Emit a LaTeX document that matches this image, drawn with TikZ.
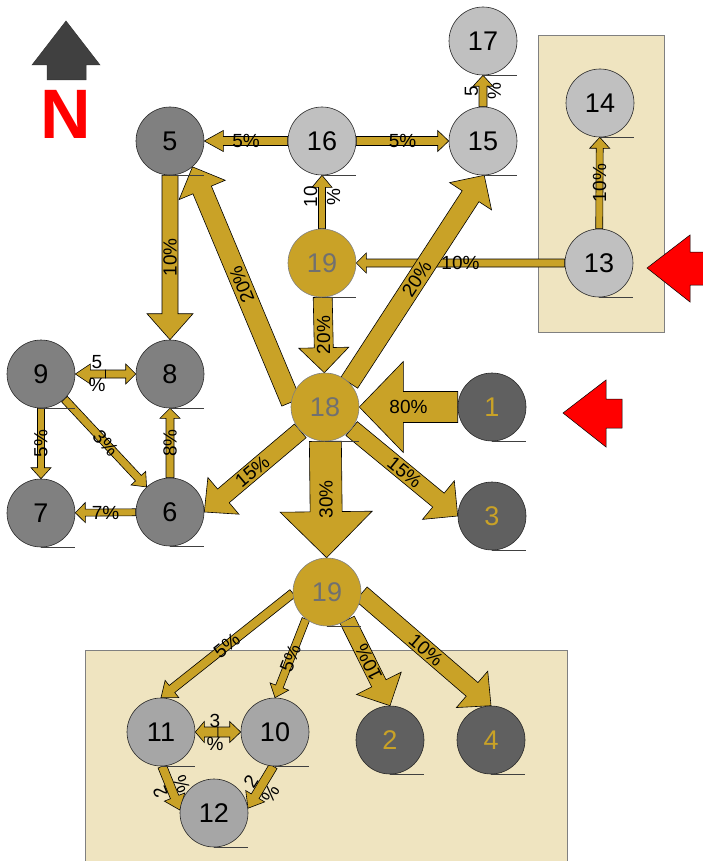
\documentclass[tikz,border=0pt]{standalone}
\usepackage{fontspec}
\setmainfont{Liberation Sans}
\usetikzlibrary{calc}

\definecolor{flowgold}{RGB}{201,162,39}
\definecolor{zonebeige}{RGB}{239,228,192}
\definecolor{greylight}{RGB}{192,192,192}
\definecolor{greypale}{RGB}{166,166,166}
\definecolor{greymid}{RGB}{128,128,128}
\definecolor{greydark}{RGB}{96,96,96}
\definecolor{goldtext}{RGB}{112,112,112}

\pgfdeclarelayer{zones}
\pgfdeclarelayer{flows}
\pgfsetlayers{zones,flows,main}

\tikzset{
  site/.style={circle,draw=black!85,line width=0.6pt,minimum size=68pt,inner sep=0pt,font=\fontsize{27}{27}\selectfont},
  sitelight/.style={site,fill=greylight},
  sitepale/.style={site,fill=greypale},
  sitemid/.style={site,fill=greymid},
  sitedark/.style={site,fill=greydark,text=flowgold},
  sitegold/.style={site,fill=flowgold,draw=greymid,text=goldtext},
  flowarrow/.style={fill=flowgold,draw=black,line width=0.6pt,line join=miter},
  flowlabel/.style={inner sep=0pt,align=center,font=\fontsize{19}{23}\selectfont},
  zonebox/.style={fill=zonebeige,draw=black!50,line width=0.6pt},
  windarrow/.style={fill=red,draw=black,line width=0.5pt},
  underline/.style={draw=black!75,line width=0.6pt}
}

% #1 tail, #2 tip, #3 half shaft, #4 half head, #5 head length, #6 label options, #7 label
\newcommand{\flow}[7]{%
  \path (#1) -- (#2) coordinate[pos=0] (ft) coordinate[pos=1] (fh);
  \coordinate (fb) at ($(fh)!#5pt!(ft)$);
  \filldraw[flowarrow] ($(ft)!#3pt!90:(fh)$) -- ($(fb)!#3pt!90:(fh)$) -- ($(fb)!#4pt!90:(fh)$) -- (fh)
    -- ($(fb)!#4pt!-90:(fh)$) -- ($(fb)!#3pt!-90:(fh)$) -- ($(ft)!#3pt!-90:(fh)$) -- cycle;
  \path (ft) -- (fh) node[flowlabel,midway,#6] {#7};
}

\begin{document}
\begin{tikzpicture}[x=1pt,y=-1pt]
\useasboundingbox (0,0) rectangle (702,861);

% compass and wind
\filldraw[fill=black!75,draw=black!80,line width=0.5pt] (66,21) -- (100,65) -- (86,65) -- (86,80) -- (47,80) -- (47,65) -- (32,65) -- cycle;
\node[text=red,font=\fontsize{70}{70}\selectfont\bfseries] (north) at (66,114) {N};
\filldraw[windarrow] (647,268) -- (690,235) -- (690,252) -- (706,252) -- (706,285) -- (690,285) -- (690,302) -- cycle;
\filldraw[windarrow] (563,413) -- (606,380) -- (606,399) -- (622,399) -- (622,428) -- (606,428) -- (606,447) -- cycle;

\begin{pgfonlayer}{zones}
\filldraw[zonebox] (538,35) rectangle (664,332);
\filldraw[zonebox] (85,650) rectangle (567,870);
\end{pgfonlayer}

% sites
\node[sitelight] (n17) at (483,41) {17};
\node[sitelight] (n15) at (483,141) {15};
\node[sitelight] (n14) at (600,103) {14};
\node[sitelight] (n13) at (599,263) {13};
\node[sitelight] (n16) at (322,141) {16};
\node[sitemid] (n5) at (170,141) {5};
\node[sitegold] (n19a) at (322,263) {19};
\node[sitegold] (n18) at (325,407) {18};
\node[sitedark] (n1) at (492,407) {1};
\node[sitedark] (n3) at (492,516) {3};
\node[sitemid] (n9) at (41,374) {9};
\node[sitemid] (n8) at (170,374) {8};
\node[sitemid] (n7) at (41,513) {7};
\node[sitemid] (n6) at (170,512) {6};
\node[sitegold] (n19b) at (327,592) {19};
\node[sitepale] (n11) at (161,732) {11};
\node[sitepale] (n10) at (275,732) {10};
\node[sitepale] (n12) at (214,813) {12};
\node[sitedark] (n2) at (390,740) {2};
\node[sitedark] (n4) at (491,740) {4};

\foreach \n in {n17,n15,n14,n13,n16,n5,n19a,n18,n1,n3,n9,n8,n7,n6,n19b,n11,n10,n12,n2,n4}
  \draw[underline] (\n.south) -- ++(34,0);

\coordinate (m98) at ($(n9.east)!0.5!(n8.west)$);
\coordinate (m1110) at ($(n11.east)!0.5!(n10.west)$);

\begin{pgfonlayer}{flows}
\flow{n16}{n5}{4.5}{10.5}{19}{}{5\%}
\flow{n16}{n15}{4.5}{10.5}{11}{}{5\%}
\flow{n15}{n17}{4}{10}{11}{rotate=90}{5\\\%}
\flow{n13}{n14}{3.5}{10}{11}{rotate=90}{10\%}
\flow{n13}{n19a}{4}{10}{10}{}{10\%}
\flow{n19a}{n16}{3.5}{10}{12}{rotate=90,pos=0.6}{10\\\%}
\flow{n19a}{n18}{9.5}{25}{25}{rotate=90}{20\%}
\flow{n5}{n8}{8}{23}{26}{rotate=90}{10\%}
\flow{n18.172}{n5.-49}{10}{25}{25}{rotate=112}{20\%}
\flow{n18.45}{n15.-88}{10}{25}{25}{rotate=57}{20\%}
\flow{n18.224}{n6.east}{9}{24}{25}{rotate=40}{15\%}
\flow{n18.-39}{n3.west}{9}{25}{25}{rotate=-39}{15\%}
\flow{n1}{n18}{15.5}{45.5}{44}{}{80\%}
\flow{n18}{n19b}{16}{46}{46}{rotate=90}{30\%}
\flow{m98}{n9}{4}{10}{15}{}{}
\flow{m98}{n8}{4}{10}{10}{}{}
\flow{n9}{n7}{3.5}{10}{11}{rotate=90}{5\%}
\flow{n9}{n6}{4}{10}{12}{rotate=-47}{3\%}
\flow{n6}{n8}{4}{10}{10}{rotate=90}{8\%}
\flow{n6}{n7}{3.5}{10}{10}{}{7\%}
\flow{n19b.182}{n11.north}{4.5}{11}{14}{rotate=38.5}{5\%}
\flow{n19b.232}{n10.north}{4}{10}{12}{rotate=68.6}{5\%}
\flow{n19b.-54}{n2.north}{8}{25}{25}{rotate=116.4}{10\%}
\flow{n19b.-3}{n4.north}{9}{24}{25}{rotate=-40.7}{10\%}
\flow{m1110}{n11}{5}{10.5}{9}{}{}
\flow{m1110}{n10}{5}{10.5}{11}{}{}
\flow{n11.-88}{n12.175}{4.5}{11}{14}{rotate=112}{2\\\%}
\flow{n10.-93}{n12.8}{4.5}{11}{14}{rotate=57.5}{2\\\%}
\node[flowlabel] (lab98) at (97,374) {5\\\%};
\node[flowlabel] (lab1110) at (215,732) {3\\\%};
\end{pgfonlayer}
\end{tikzpicture}
\end{document}
